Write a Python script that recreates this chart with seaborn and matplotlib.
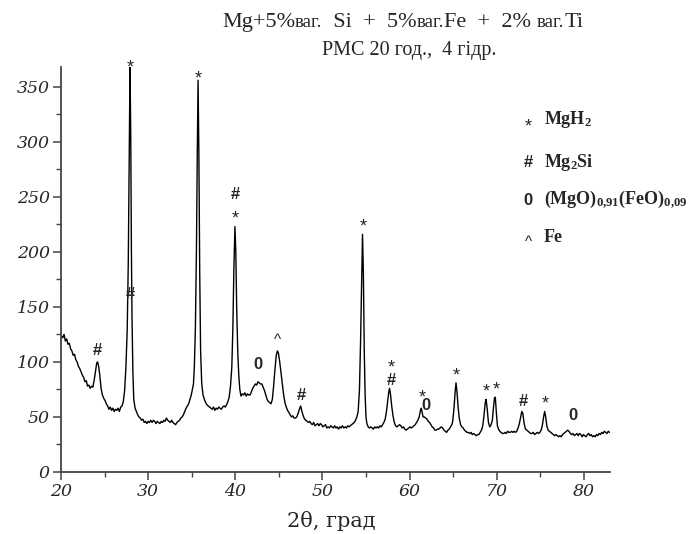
import matplotlib
matplotlib.use("Agg")
import matplotlib.pyplot as plt
import matplotlib.transforms as mtransforms
import pandas as pd
import seaborn as sns
from matplotlib.ticker import MultipleLocator

# ---------------- data ----------------
two_theta = [
    20.0, 20.2, 20.35, 20.5, 20.65, 20.8, 20.95, 21.1, 21.25, 21.4, 21.55, 21.7, 21.85, 22.0, 22.15,
    22.3, 22.45, 22.6, 22.75, 22.9, 23.05, 23.2, 23.35, 23.5, 23.65, 23.8, 23.95, 24.1, 24.2, 24.32,
    24.45, 24.6, 24.75, 24.9, 25.05, 25.2, 25.35, 25.5, 25.65, 25.8, 25.95, 26.1, 26.25, 26.4, 26.55,
    26.7, 26.85, 27.0, 27.15, 27.3, 27.45, 27.6, 27.72, 27.82, 27.92, 28.0, 28.08, 28.15, 28.25, 28.35,
    28.5, 28.65, 28.8, 28.95, 29.1, 29.25, 29.4, 29.55, 29.7, 29.85, 30.0, 30.15, 30.3, 30.45, 30.6,
    30.75, 30.9, 31.05, 31.2, 31.35, 31.5, 31.65, 31.8, 31.95, 32.1, 32.25, 32.4, 32.55, 32.7, 32.85,
    33.0, 33.15, 33.3, 33.45, 33.6, 33.75, 33.9, 34.05, 34.2, 34.35, 34.5, 34.65, 34.8, 34.95, 35.1,
    35.2, 35.3, 35.42, 35.54, 35.64, 35.73, 35.82, 35.92, 36.02, 36.15, 36.3, 36.45, 36.6, 36.75, 36.9,
    37.05, 37.2, 37.35, 37.5, 37.65, 37.8, 37.95, 38.1, 38.25, 38.4, 38.55, 38.7, 38.85, 39.0, 39.15,
    39.3, 39.45, 39.6, 39.72, 39.84, 39.96, 40.06, 40.16, 40.28, 40.4, 40.52, 40.65, 40.8, 40.95, 41.1,
    41.25, 41.4, 41.55, 41.7, 41.85, 42.0, 42.15, 42.3, 42.45, 42.6, 42.75, 42.9, 43.05, 43.2, 43.35,
    43.5, 43.65, 43.8, 43.95, 44.1, 44.25, 44.4, 44.55, 44.7, 44.83, 44.95, 45.1, 45.25, 45.4, 45.55,
    45.7, 45.85, 46.0, 46.15, 46.3, 46.45, 46.6, 46.75, 46.9, 47.05, 47.2, 47.35, 47.5, 47.65, 47.8,
    47.95, 48.1, 48.25, 48.4, 48.55, 48.7, 48.85, 49.0, 49.15, 49.3, 49.45, 49.6, 49.75, 49.9, 50.05,
    50.2, 50.35, 50.5, 50.65, 50.8, 50.95, 51.1, 51.25, 51.4, 51.55, 51.7, 51.85, 52.0, 52.15, 52.3,
    52.45, 52.6, 52.75, 52.9, 53.05, 53.2, 53.35, 53.5, 53.65, 53.8, 53.95, 54.1, 54.25, 54.38, 54.5,
    54.6, 54.7, 54.8, 54.9, 55.0, 55.1, 55.25, 55.4, 55.55, 55.7, 55.85, 56.0, 56.15, 56.3, 56.45,
    56.6, 56.75, 56.9, 57.05, 57.2, 57.35, 57.5, 57.6, 57.7, 57.82, 57.95, 58.1, 58.25, 58.4, 58.55,
    58.7, 58.85, 59.0, 59.15, 59.3, 59.45, 59.6, 59.75, 59.9, 60.05, 60.2, 60.35, 60.5, 60.65, 60.8,
    60.95, 61.1, 61.25, 61.35, 61.45, 61.55, 61.7, 61.85, 62.0, 62.15, 62.3, 62.45, 62.6, 62.75, 62.9,
    63.05, 63.2, 63.35, 63.5, 63.65, 63.8, 63.95, 64.1, 64.25, 64.4, 64.55, 64.7, 64.85, 64.95, 65.1,
    65.22, 65.33, 65.45, 65.58, 65.7, 65.85, 66.0, 66.15, 66.3, 66.45, 66.6, 66.75, 66.9, 67.05, 67.2,
    67.35, 67.5, 67.65, 67.8, 67.95, 68.1, 68.25, 68.4, 68.55, 68.68, 68.78, 68.9, 69.05, 69.2, 69.35,
    69.5, 69.62, 69.74, 69.84, 69.95, 70.08, 70.2, 70.35, 70.5, 70.65, 70.8, 70.95, 71.1, 71.25, 71.4,
    71.55, 71.7, 71.85, 72.0, 72.15, 72.3, 72.45, 72.6, 72.75, 72.88, 73.0, 73.15, 73.3, 73.45, 73.6,
    73.75, 73.9, 74.05, 74.2, 74.35, 74.5, 74.65, 74.8, 74.95, 75.1, 75.25, 75.38, 75.5, 75.62, 75.75,
    75.9, 76.05, 76.2, 76.35, 76.5, 76.65, 76.8, 76.95, 77.1, 77.25, 77.4, 77.55, 77.7, 77.85, 78.0,
    78.15, 78.3, 78.45, 78.6, 78.75, 78.9, 79.05, 79.2, 79.35, 79.5, 79.65, 79.8, 79.95, 80.1, 80.25,
    80.4, 80.55, 80.7, 80.85, 81.0, 81.15, 81.3, 81.45, 81.6, 81.75, 81.9, 82.05, 82.2, 82.35, 82.5,
    82.65, 82.8, 82.95,
]
intensity = [
    124, 122, 125, 119, 121, 116, 117, 112, 110, 106, 107, 102, 100, 96, 94,
    91, 88, 86, 82, 83, 78, 79, 76, 78, 77, 83, 91, 99, 100, 96,
    88, 76, 70, 67, 65, 62, 60, 57, 59, 56, 58, 55, 57, 56, 58,
    55, 59, 60, 64, 74, 95, 130, 190, 280, 368, 310, 200, 140, 90, 66,
    58, 55, 52, 50, 49, 47, 48, 45, 46, 44, 46, 45, 47, 45, 47,
    46, 44, 46, 45, 44, 46, 45, 47, 46, 49, 47, 46, 45, 47, 45,
    44, 43, 45, 46, 47, 49, 50, 52, 55, 58, 60, 62, 66, 70, 76,
    80, 95, 130, 200, 290, 356, 290, 180, 110, 80, 70, 66, 63, 61, 60,
    59, 58, 57, 59, 56, 58, 57, 59, 58, 57, 59, 60, 59, 61, 64,
    68, 78, 95, 130, 185, 223, 200, 150, 110, 88, 75, 69, 71, 70, 72,
    69, 71, 70, 70, 73, 76, 78, 80, 79, 82, 81, 80, 80, 77, 74,
    70, 66, 64, 63, 62, 66, 78, 93, 106, 110, 108, 100, 90, 80, 70,
    63, 59, 56, 54, 52, 50, 51, 49, 49, 50, 53, 57, 60, 55, 51,
    48, 47, 46, 45, 46, 44, 43, 45, 42, 43, 44, 42, 44, 43, 41,
    42, 43, 40, 41, 40, 42, 41, 40, 42, 40, 41, 39, 41, 40, 42,
    40, 41, 40, 42, 41, 42, 43, 44, 45, 47, 50, 55, 75, 120, 175,
    216, 180, 110, 70, 50, 44, 41, 40, 41, 40, 39, 41, 40, 41, 40,
    42, 41, 43, 45, 48, 55, 65, 72, 76, 70, 60, 51, 45, 42, 41,
    42, 43, 42, 40, 41, 39, 38, 39, 40, 41, 40, 41, 42, 43, 45,
    47, 50, 56, 58, 54, 50, 50, 49, 48, 46, 45, 43, 41, 40, 38,
    38, 39, 39, 40, 41, 40, 38, 37, 36, 38, 39, 41, 43, 46, 58,
    72, 81, 72, 58, 49, 43, 41, 40, 38, 37, 36, 36, 35, 36, 34,
    35, 34, 33, 34, 34, 36, 38, 42, 52, 63, 66, 58, 45, 41, 43,
    47, 58, 67, 68, 55, 42, 39, 37, 36, 35, 35, 36, 35, 37, 36,
    36, 37, 36, 37, 36, 37, 40, 44, 50, 55, 53, 44, 39, 38, 37,
    36, 35, 35, 36, 34, 35, 36, 35, 36, 38, 43, 50, 55, 50, 42,
    38, 37, 36, 35, 34, 33, 34, 33, 32, 33, 32, 34, 35, 36, 37,
    38, 37, 35, 34, 35, 33, 34, 35, 33, 35, 34, 32, 34, 33, 32,
    34, 35, 33, 34, 32, 33, 32, 34, 33, 35, 34, 36, 35, 37, 36,
    35, 37, 36,
]

# phase marks above the peaks
mark_x = [24.2, 27.92, 27.92, 35.73, 39.98, 39.98, 42.58, 44.83, 47.63, 54.64,
          57.89, 57.89, 61.4, 61.9, 65.35, 68.8, 69.9, 73.0, 75.57, 78.7]
mark_y = [110.6, 373.5, 162, 363, 236, 253, 98.5, 124, 69.8, 228.5,
          101, 84, 73.5, 61.4, 94, 79, 81, 64.4, 67.7, 51.7]
mark_sym = ['#', '*', '#', '*', '*', '#', '0', '^', '#', '*',
            '*', '#', '*', '0', '*', '*', '*', '#', '*', '0']

legend_sym = ['*', '#', '0', '^']
legend_txt = [r'MgH$_2$', r'Mg$_2$Si', r'(MgO)$_{0{,}91}$(FeO)$_{0{,}09}$', 'Fe']

x_ticks = [20, 30, 40, 50, 60, 70, 80]
y_ticks = [0, 50, 100, 150, 200, 250, 300, 350]
x_label = '2θ, град'
title_line1 = [('Mg+5%', 'big'), ('ваг.', 'small'), ('  Si  +  5%', 'big'), ('ваг.', 'small'),
               ('Fe  +  2% ', 'big'), ('ваг.', 'small'), ('Ti', 'big')]
title_line2 = 'РМС 20 год.,  4 гідр.'

# ---------------- figure ----------------
sns.set_style('ticks')
plt.rcParams['font.family'] = ['DejaVu Serif']
plt.rcParams['mathtext.fontset'] = 'custom'
plt.rcParams['mathtext.rm'] = 'Liberation Serif:bold'
plt.rcParams['mathtext.it'] = 'Liberation Serif:bold'
plt.rcParams['mathtext.bf'] = 'Liberation Serif:bold'

W, H = 691, 534
fig = plt.figure(figsize=(W / 100, H / 100), dpi=100)
L, R, B, T = 61, 610, 472, 67
ax = fig.add_axes([L / W, 1 - B / H, (R - L) / W, (B - T) / H])

df = pd.DataFrame({'two_theta': two_theta, 'intensity': intensity})
sns.lineplot(data=df, x='two_theta', y='intensity', ax=ax, color='black',
             lw=1.0, estimator=None, sort=False)

ax.set_xlim(20, 83)
ax.set_ylim(0, 368)
ax.set_xticks(x_ticks)
ax.set_yticks(y_ticks)
ax.xaxis.set_minor_locator(MultipleLocator(5))
ax.yaxis.set_minor_locator(MultipleLocator(25))
ax.set_xlabel('')
ax.set_ylabel('')
sns.despine(ax=ax)
for s in ['left', 'bottom']:
    ax.spines[s].set_color('#444444')
    ax.spines[s].set_linewidth(1.3)
ax.tick_params(which='major', length=6, width=1.1, color='#444444', pad=2,
               labelsize=12.5)
ax.tick_params(which='minor', length=3.5, width=1.0, color='#444444')
for lab in ax.get_xticklabels() + ax.get_yticklabels():
    lab.set_fontstyle('italic')
    lab.set_family('DejaVu Serif')

# peak marks
offs = {'*': -5.0, '#': -0.5, '0': -0.5, '^': -3.5}
sizes = {'*': 13, '#': 12, '0': 12, '^': 11}
weights = {'*': 'normal', '#': 'bold', '0': 'bold', '^': 'normal'}
for xv, yv, sym in zip(mark_x, mark_y, mark_sym):
    ax.annotate(sym, xy=(xv, yv), xytext=(0, offs[sym]), textcoords='offset points',
                ha='center', va='center', fontsize=sizes[sym], fontweight=weights[sym],
                family='Liberation Sans', annotation_clip=False)

# legend (text block)
leg_y = [120, 162, 200, 237]
for sym, txt, yy in zip(legend_sym, legend_txt, leg_y):
    tr = fig.transFigure + mtransforms.ScaledTranslation(0, offs[sym] / 72, fig.dpi_scale_trans)
    fig.text(528 / W, 1 - yy / H, sym, ha='center', va='center', transform=tr,
             fontsize=sizes[sym], fontweight=weights[sym], family='Liberation Sans')
    fig.text(544 / W, 1 - yy / H, txt, ha='left', va='center', fontsize=13,
             fontweight='bold', family='Liberation Serif')

# x label
fig.text(331 / W, 1 - 521 / H, x_label, ha='center', va='center', fontsize=15,
         family='DejaVu Serif')

# title, line 1 built from segments of two sizes
fsz = {'big': 16, 'small': 13.5}
renderer = fig.canvas.get_renderer()
x_px = 222.0
base_y = 1 - 27 / H
for seg, kind in title_line1:
    t = fig.text(x_px / W, base_y, seg, ha='left', va='baseline',
                 fontsize=fsz[kind], family='Liberation Serif')
    x_px += t.get_window_extent(renderer=renderer).width

fig.text(409 / W, 1 - 55 / H, title_line2, ha='center', va='baseline', fontsize=14.5,
         family='Liberation Serif')

fig.savefig('out.png', dpi=100)
